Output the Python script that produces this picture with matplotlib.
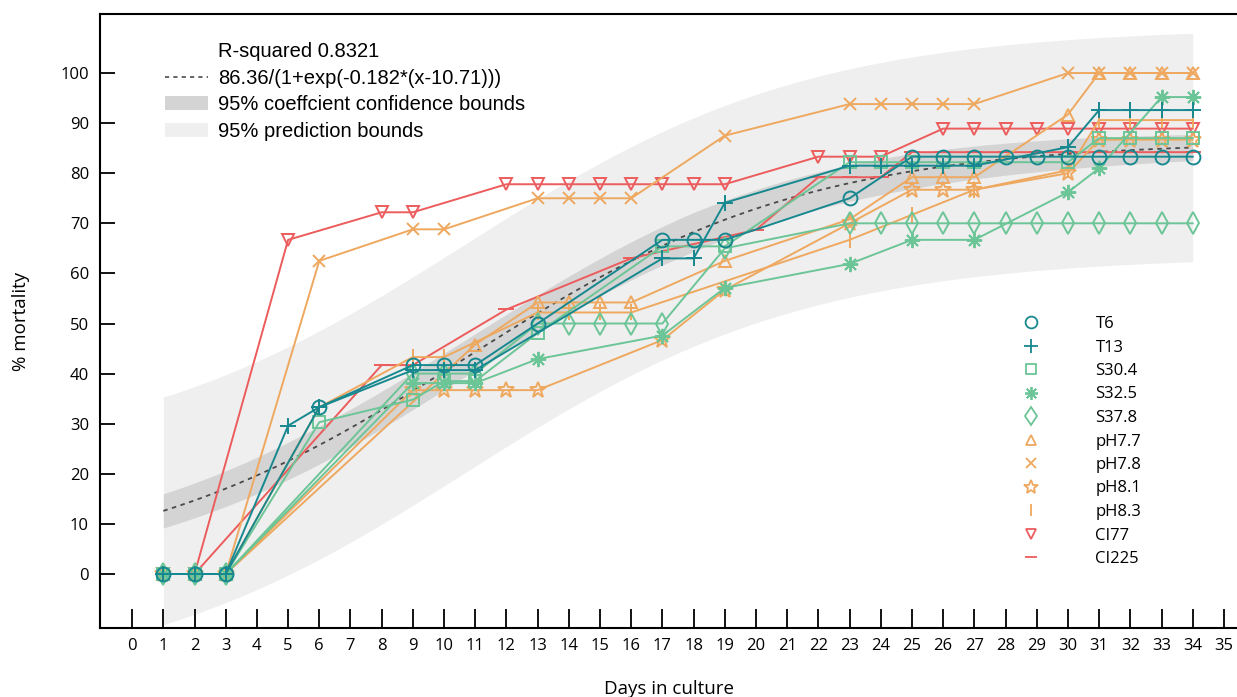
import numpy as np
import matplotlib
matplotlib.use("Agg")
import matplotlib.pyplot as plt
from matplotlib.lines import Line2D
from matplotlib.patches import Patch

# colours of the groups
TEAL = '#17888f'
GREEN = '#6cc597'
ORANGE = '#eea85f'
RED = '#ec5c5c'

# fitted logistic curve (from legend)
FIT_A = 86.36
FIT_K = 0.182
FIT_X0 = 10.71
R_SQUARED = 0.8321

# half widths of bounds at a few days
BOUND_DAYS = [1, 6, 12, 18, 24, 34]
CONF_HALF = [3.4, 3.8, 3.6, 3.9, 3.6, 2.6]
PRED_HALF = [22.7, 22.8, 22.8, 22.8, 22.8, 22.8]

# % mortality per day for each group
T6_days = [1, 2, 3, 6, 9, 10, 11, 13, 17, 18, 19, 23, 25, 26, 27, 28, 29, 30, 31, 32, 33, 34]
T6_vals = [0, 0, 0, 33.3, 41.7, 41.7, 41.7, 50, 66.7, 66.7, 66.7, 75, 83.3, 83.3, 83.3, 83.3,
           83.3, 83.3, 83.3, 83.3, 83.3, 83.3]

T13_days = [1, 2, 3, 5, 6, 9, 10, 11, 17, 18, 19, 23, 24, 25, 26, 27, 30, 31, 32, 33, 34]
T13_vals = [0, 0, 0, 29.6, 33.3, 40.7, 40.7, 40.7, 63, 63, 74.1, 81.5, 81.5, 81.5, 81.5, 81.5,
            85.2, 92.6, 92.6, 92.6, 92.6]

S304_days = [1, 2, 3, 6, 9, 10, 11, 13, 17, 19, 23, 24, 25, 26, 27, 30, 31, 32, 33, 34]
S304_vals = [0, 0, 0, 30.3, 34.8, 38.5, 38.5, 48.1, 65.4, 65.4, 82.2, 82.2, 82.2, 82.2, 82.2,
             82.2, 87, 87, 87, 87]

S325_days = [1, 2, 3, 9, 10, 11, 13, 17, 19, 23, 25, 27, 30, 31, 33, 34]
S325_vals = [0, 0, 0, 38.1, 38.1, 38.1, 42.9, 47.6, 57.1, 61.9, 66.7, 66.7, 76.2, 81, 95.2, 95.2]

S378_days = [1, 2, 3, 9, 10, 11, 13, 14, 15, 16, 17, 19, 23, 24, 25, 26, 27, 28, 29, 30, 31, 32, 33, 34]
S378_vals = [0, 0, 0, 40, 40, 40, 50, 50, 50, 50, 50, 65, 70, 70, 70, 70, 70, 70, 70, 70, 70, 70, 70, 70]

PH77_days = [1, 2, 3, 11, 13, 14, 15, 16, 19, 23, 25, 26, 27, 30, 31, 32, 33, 34]
PH77_vals = [0, 0, 0, 45.8, 54.2, 54.2, 54.2, 54.2, 62.5, 70.8, 79.2, 79.2, 79.2, 91.7, 100, 100, 100, 100]

PH78_days = [1, 2, 3, 6, 9, 10, 13, 14, 15, 16, 19, 23, 24, 25, 26, 27, 30, 31, 32, 33, 34]
PH78_vals = [0, 0, 0, 62.5, 68.8, 68.8, 75, 75, 75, 75, 87.5, 93.8, 93.8, 93.8, 93.8, 93.8,
             100, 100, 100, 100, 100]

PH81_days = [1, 2, 3, 9, 10, 11, 12, 13, 17, 19, 23, 25, 26, 27, 30, 31, 32, 33, 34]
PH81_vals = [0, 0, 0, 36.7, 36.7, 36.7, 36.7, 36.7, 46.7, 56.7, 70, 76.7, 76.7, 76.7, 80,
             86.7, 86.7, 86.7, 86.7]

PH83_days = [1, 2, 3, 6, 9, 10, 13, 14, 15, 16, 23, 25, 27, 30, 31, 32, 33, 34]
PH83_vals = [0, 0, 0, 33.3, 43.3, 43.3, 52.2, 52.2, 52.2, 52.2, 66.7, 71.7, 76.7, 80.6,
             90.6, 90.6, 90.6, 90.6]

CI77_days = [1, 2, 5, 8, 9, 12, 13, 14, 15, 16, 17, 18, 19, 22, 23, 24, 26, 27, 28, 29, 30, 31, 32, 33, 34]
CI77_vals = [0, 0, 66.7, 72.2, 72.2, 77.8, 77.8, 77.8, 77.8, 77.8, 77.8, 77.8, 77.8, 83.3, 83.3,
             83.3, 88.9, 88.9, 88.9, 88.9, 88.9, 88.9, 88.9, 88.9, 88.9]

CI225_days = [1, 2, 8, 9, 12, 16, 20, 22, 23, 24, 25, 26, 27, 28, 29, 30, 31, 32, 33, 34]
CI225_vals = [0, 0, 41.7, 41.7, 52.8, 63, 68.7, 79.2, 79.2, 79.2, 84.2, 84.2, 84.2, 84.2, 84.2,
              84.2, 84.2, 84.2, 84.2, 84.2]

# name, days, values, colour, marker, marker size
SERIES = [
    ('T6', T6_days, T6_vals, TEAL, 'o', 10),
    ('T13', T13_days, T13_vals, TEAL, '+', 12),
    ('S30.4', S304_days, S304_vals, GREEN, 's', 9),
    ('S32.5', S325_days, S325_vals, GREEN, (8, 2, 0), 11),
    ('S37.8', S378_days, S378_vals, GREEN, 'd', 11),
    ('pH7.7', PH77_days, PH77_vals, ORANGE, '^', 9),
    ('pH7.8', PH78_days, PH78_vals, ORANGE, 'x', 9),
    ('pH8.1', PH81_days, PH81_vals, ORANGE, '*', 12),
    ('pH8.3', PH83_days, PH83_vals, ORANGE, '|', 11),
    ('CI77', CI77_days, CI77_vals, RED, 'v', 9),
    ('CI225', CI225_days, CI225_vals, RED, '_', 11),
]

TICK_FONT = 'Open Sans'
FIT_FONT = 'Liberation Sans'


def logistic(x):
    return FIT_A / (1 + np.exp(-FIT_K * (x - FIT_X0)))


def main():
    fig = plt.figure(figsize=(12.37, 6.97), dpi=100)
    ax = fig.add_axes([100 / 1237, 1 - 628 / 697, 1 - 100 / 1237, (628 - 14) / 697])

    # fit and bounds
    x = np.linspace(1, 34, 300)
    y = logistic(x)
    conf = np.interp(x, BOUND_DAYS, CONF_HALF)
    pred = np.interp(x, BOUND_DAYS, PRED_HALF)
    ax.fill_between(x, y - pred, y + pred, color='#efefef', lw=0, zorder=1)
    ax.fill_between(x, y - conf, y + conf, color='#d4d4d4', lw=0, zorder=2)
    ax.plot(x, y, color='#4a4a4a', ls=(0, (2.5, 2.5)), lw=1.3, zorder=3)

    # data series, drawn last to first so T6 ends on top
    for name, days, vals, col, mk, ms in reversed(SERIES):
        ax.plot(days, vals, color=col, lw=1.4, marker=mk, ms=ms,
                mfc='none', mec=col, mew=1.4, zorder=4)

    ax.set_xlim(-1.03, 35.42)
    ax.set_ylim(-10.78, 111.78)
    ax.set_xticks(range(0, 36))
    ax.set_yticks(range(0, 101, 10))
    ax.tick_params(axis='x', direction='in', length=14, width=1.3, pad=7, labelsize=12)
    ax.tick_params(axis='y', direction='in', length=11, width=1.3, pad=8, labelsize=12)
    for lab in ax.get_xticklabels() + ax.get_yticklabels():
        lab.set_fontfamily(TICK_FONT)
    for side in ['left', 'bottom', 'top']:
        ax.spines[side].set_linewidth(1.5)
    ax.spines['right'].set_visible(False)

    ax.set_xlabel('Days in culture', fontsize=13.5, family=TICK_FONT, labelpad=19)
    ax.set_ylabel('% mortality', fontsize=13.5, family=TICK_FONT, labelpad=22)

    # fit legend (top left)
    fit_handles = [
        Line2D([], [], ls='none'),
        Line2D([], [], color='#4a4a4a', ls=(0, (2.5, 2.5)), lw=1.2),
        Patch(facecolor='#d4d4d4', edgecolor='none'),
        Patch(facecolor='#efefef', edgecolor='none'),
    ]
    fit_labels = [
        'R-squared %.4f' % R_SQUARED,
        '%.2f/(1+exp(-%.3f*(x-%.2f)))' % (FIT_A, FIT_K, FIT_X0),
        '95% coeffcient confidence bounds',
        '95% prediction bounds',
    ]
    fig.legend(fit_handles, fit_labels, loc='upper left',
               bbox_to_anchor=(165 / 1237, 1 - 42 / 697),
               frameon=False, borderpad=0, borderaxespad=0,
               handlelength=2.15, handleheight=0.7, handletextpad=0.5,
               labelspacing=0.38, prop={'family': FIT_FONT, 'size': 14.5})

    # group legend (right)
    grp_handles = [Line2D([], [], ls='none', marker=mk, ms=ms * 0.85, mfc='none', mec=col, mew=1.3)
                   for name, days, vals, col, mk, ms in SERIES]
    grp_labels = [s[0] for s in SERIES]
    fig.legend(grp_handles, grp_labels, loc='upper left',
               bbox_to_anchor=(1023 / 1237, 1 - 316 / 697),
               frameon=False, borderpad=0, borderaxespad=0,
               handlelength=1.0, handletextpad=3.35, labelspacing=0.45,
               prop={'family': TICK_FONT, 'size': 12})

    fig.savefig('out.png', dpi=100)


if __name__ == "__main__":
    main()
